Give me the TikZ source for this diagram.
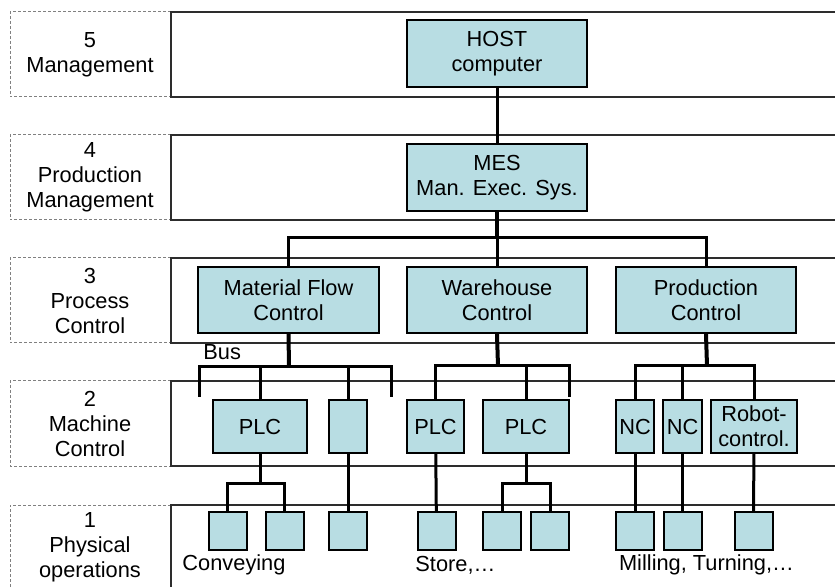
\documentclass[tikz,border=0pt]{standalone}
\usepackage{fontspec}
\setmainfont{Liberation Sans}
\usepackage{tikz}
\usetikzlibrary{positioning}
\definecolor{boxblue}{RGB}{184,221,227}
\definecolor{bandgray}{RGB}{45,45,45}
\tikzstyle{every node}=[font=\fontsize{10.9}{12.5}\selectfont]
\tikzstyle{band}=[draw=bandgray,line width=1pt]
\tikzstyle{levelbox}=[draw=gray,line width=0.5pt,dash pattern=on 1.5pt off 1pt]
\tikzstyle{levellabel}=[align=center,inner sep=0pt]
\tikzstyle{unit}=[draw,fill=boxblue,line width=1pt,inner sep=0pt,align=center,
                  minimum height=33pt]
\tikzstyle{ctrl}=[unit,minimum height=26.5pt]
\tikzstyle{device}=[unit,minimum size=19pt]
\tikzstyle{link}=[line width=1.5pt]
\tikzstyle{trunk}=[line width=2pt]

\begin{document}
\begin{tikzpicture}[x=0.5pt,y=-0.5pt]
\clip (0,0) rectangle (835,587);
% levels
\foreach \top/\txt in {12/{5\\Management},135/{4\\Production\\Management},
    258/{3\\Process\\Control},381/{2\\Machine\\Control},505/{1\\Physical\\operations}}{
  \draw[levelbox] (171,\top) -- (10,\top) -- (10,\top+85) -- (171,\top+85);
  \draw[band] (845,\top) -- (171,\top) -- (171,\top+85) -- (845,\top+85);
  \node[levellabel] at (90,\top+42.5) {\txt};
}
% units
\node[unit,minimum width=90pt,minimum height=33.5pt] (host) at (497,53.5) {HOST\\computer};
\node[unit,minimum width=90pt,minimum height=33.5pt] (mes) at (497,177.5) {MES\\Man. Exec. Sys.};
\node[unit,minimum width=90.5pt] (mfc) at (288.5,300) {Material Flow\\Control};
\node[unit,minimum width=90pt] (whc) at (497,300) {Warehouse\\Control};
\node[unit,minimum width=90pt] (pc) at (706,300) {Production\\Control};
\node[ctrl,minimum width=47pt] (plcA) at (260,426.5) {PLC};
\node[ctrl,minimum width=19pt] (spare) at (348,426.5) {};
\node[ctrl,minimum width=28.5pt] (plcB) at (435.5,426.5) {PLC};
\node[ctrl,minimum width=43pt] (plcC) at (526,426.5) {PLC};
\node[ctrl,minimum width=19pt] (ncA) at (635,426.5) {NC};
\node[ctrl,minimum width=19.5pt] (ncB) at (682.5,426.5) {NC};
\node[ctrl,minimum width=43pt] (robot) at (754,426.5) {Robot-\\control.};
\foreach \name/\xx in {convA/227.5,convB/284.5,convC/348,storeA/436.5,storeB/502,
    storeC/550,millA/635,millB/682.5,millC/753.5}
  \node[device] (\name) at (\xx,531) {};
% joints
\coordinate (hub) at (497,238);
\coordinate (busM) at (289,367);
\coordinate (busW) at (498,366);
\coordinate (busP) at (707,366);
\coordinate (endL) at (199,397);
\coordinate (endR) at (391,397);
\coordinate (endW) at (569,397);
\coordinate (jointA) at (260,483);
\coordinate (jointC) at (526,483);
% connectors
\draw[link] (host) -- (mes);
\draw[trunk] (mes.south) -- (hub);
\draw[link] (mfc.north) |- (hub) -| (pc.north);
\draw[link] (hub) -- (whc.north);
\draw[trunk] (mfc.south) -- (busM);
\draw[trunk] (whc.south) -- (busW);
\draw[trunk] (pc.south) -- (busP);
\draw[link] (endL) |- (busM) -| (endR);
\draw[link] (plcA.north) -- (plcA.north |- busM);
\draw[link] (spare.north) -- (spare.north |- busM);
\draw[link] (plcB.north) |- (busW) -| (endW);
\draw[link] (plcC.north) -- (plcC.north |- busW);
\draw[link] (ncA.north) |- (busP) -| (robot.north);
\draw[link] (ncB.north) -- (ncB.north |- busP);
\draw[link] (plcA.south) -- (jointA);
\draw[link] (convA.north) |- (jointA) -| (convB.north);
\draw[link] (spare) -- (convC);
\draw[link] (plcB) -- (storeA);
\draw[link] (plcC.south) -- (jointC);
\draw[link] (storeB.north) |- (jointC) -| (storeC.north);
\draw[link] (ncA) -- (millA);
\draw[link] (ncB) -- (millB);
\draw[link] (robot) -- (millC);
% labels
\node[anchor=west,inner sep=0pt] (bus) at (203,352) {Bus};
\node (conveying) at (234,565) {Conveying};
\node[anchor=west,inner sep=0pt] (store) at (415,565) {Store,…};
\node (milling) at (706.5,565) {Milling, Turning,…};
\end{tikzpicture}
\end{document}
